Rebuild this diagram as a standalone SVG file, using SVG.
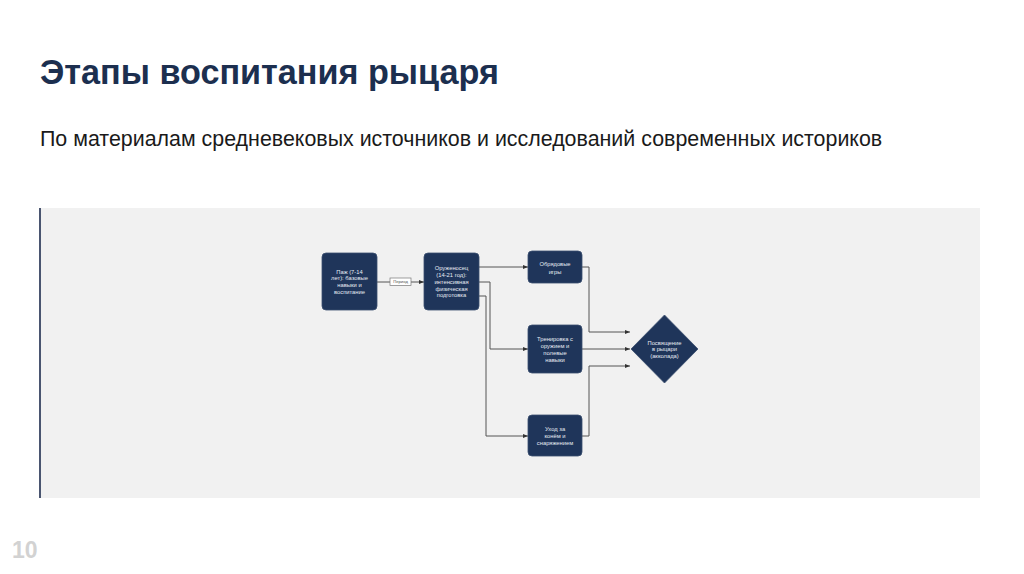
<svg xmlns="http://www.w3.org/2000/svg" width="1024" height="574" viewBox="0 0 1024 574">
<defs>
<style>
.title{font-family:"Liberation Sans",Arial,sans-serif;font-weight:bold;font-size:34.2px;fill:#1c2f4f}
.sub{font-family:"Liberation Sans",Arial,sans-serif;font-size:21.4px;fill:#1a1a1a}
.pg{font-family:"Liberation Sans",Arial,sans-serif;font-weight:bold;font-size:23px;fill:#d2d2d2}
.node{fill:#1f355a;stroke:#3b4f70;stroke-width:0.8}
.nt{font-family:"Liberation Sans",Arial,sans-serif;font-size:5.8px;fill:#e6ebf2;text-anchor:middle}
.lt{font-family:"Liberation Sans",Arial,sans-serif;font-size:4.2px;fill:#555;text-anchor:middle}
.edge{fill:none;stroke:#555;stroke-width:1}
</style>
<marker id="arr" viewBox="0 0 10 10" refX="10" refY="5" markerWidth="5" markerHeight="5" orient="auto" markerUnits="userSpaceOnUse">
<path d="M0,1 L10,5 L0,9 Z" fill="#333"/>
</marker>
</defs>
<rect width="1024" height="574" fill="#ffffff"/>
<text class="title" x="40" y="84">Этапы воспитания рыцаря</text>
<text class="sub" x="40" y="146">По материалам средневековых источников и исследований современных историков</text>
<rect x="40" y="208" width="940" height="290" fill="#f1f1f1"/>
<rect x="39" y="208" width="2" height="290" fill="#4a5570"/>
<text class="pg" x="12" y="558">10</text>

<g id="connectors">
<path class="edge" d="M377,282 H424" marker-end="url(#arr)"/>
<rect x="390" y="278" width="21" height="7.5" fill="#ffffff" stroke="#777" stroke-width="0.7"/>
<text class="lt" x="400.5" y="283.3">Период</text>
<path class="edge" d="M479,267 H528" marker-end="url(#arr)"/>
<path class="edge" d="M479,282 H490 V349 H528" marker-end="url(#arr)"/>
<path class="edge" d="M479,296 H486 V436 H528" marker-end="url(#arr)"/>
<path class="edge" d="M582,267 H589 V332 H630" marker-end="url(#arr)"/>
<path class="edge" d="M582,349 H630" marker-end="url(#arr)"/>
<path class="edge" d="M582,436 H589 V366 H630" marker-end="url(#arr)"/>
</g>

<g id="page">
<rect class="node" x="322" y="253" width="55" height="57" rx="4"/>
<text class="nt" x="349.5" y="273.5">Паж (7-14</text>
<text class="nt" x="349.5" y="280.3">лет): базовые</text>
<text class="nt" x="349.5" y="287.1">навыки и</text>
<text class="nt" x="349.5" y="293.9">воспитание</text>
</g>

<g id="squire">
<rect class="node" x="424" y="253" width="55" height="57" rx="4"/>
<text class="nt" x="451.5" y="270.2">Оруженосец</text>
<text class="nt" x="451.5" y="277">(14-21 год):</text>
<text class="nt" x="451.5" y="283.8">интенсивная</text>
<text class="nt" x="451.5" y="290.6">физическая</text>
<text class="nt" x="451.5" y="297.4">подготовка</text>
</g>

<g id="games">
<rect class="node" x="528" y="251" width="54" height="32" rx="4"/>
<text class="nt" x="555" y="266">Обрядовые</text>
<text class="nt" x="555" y="273.5">игры</text>
</g>

<g id="training">
<rect class="node" x="528" y="325" width="54" height="48" rx="4"/>
<text class="nt" x="555" y="341">Тренировка с</text>
<text class="nt" x="555" y="348">оружием и</text>
<text class="nt" x="555" y="355">полевые</text>
<text class="nt" x="555" y="362">навыки</text>
</g>

<g id="horse">
<rect class="node" x="528" y="415" width="54" height="41" rx="4"/>
<text class="nt" x="555" y="431">Уход за</text>
<text class="nt" x="555" y="438">конём и</text>
<text class="nt" x="555" y="445">снаряжением</text>
</g>

<g id="accolade">
<polygon class="node" points="664.5,315 698,349 664.5,383 631,349"/>
<text class="nt" x="664.5" y="344.5">Посвящение</text>
<text class="nt" x="664.5" y="351.3">в рыцари</text>
<text class="nt" x="664.5" y="358.1">(акколада)</text>
</g>
</svg>
